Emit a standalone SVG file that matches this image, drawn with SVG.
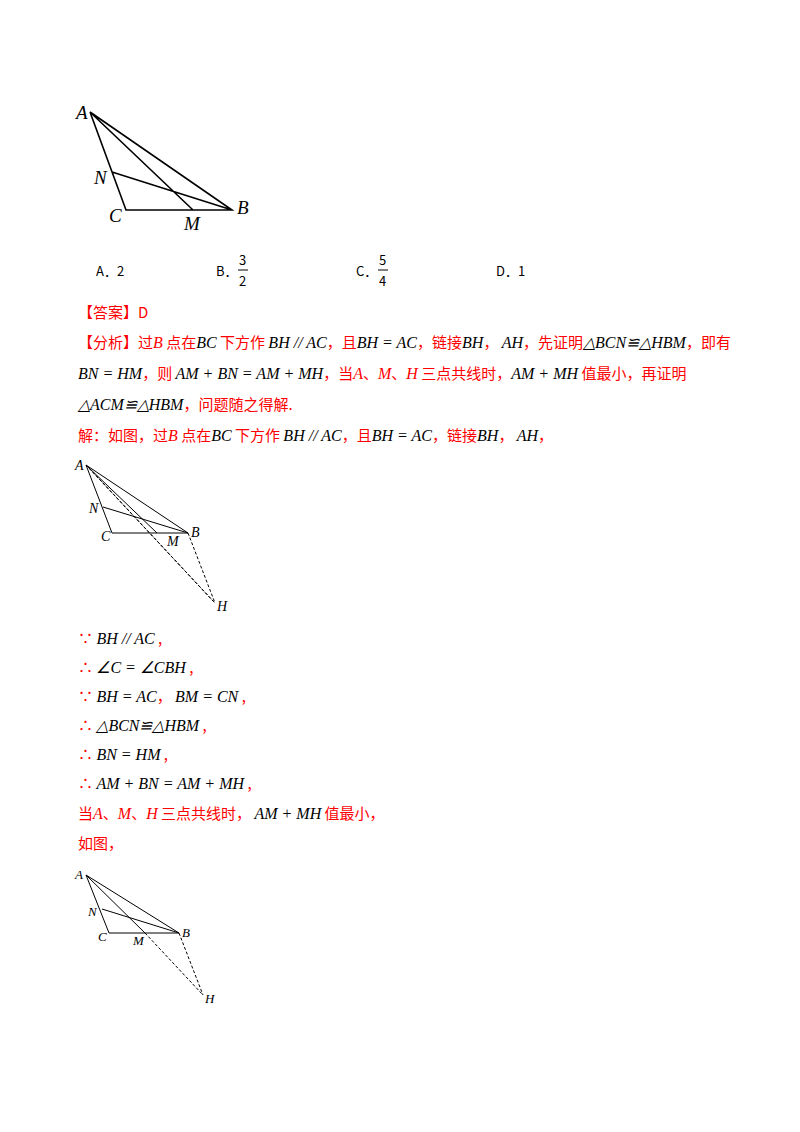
<svg xmlns="http://www.w3.org/2000/svg" width="800" height="1132" viewBox="0 0 800 1132">
<style>
.r{fill:#ff0000;font-family:"Noto Sans CJK SC","Liberation Sans",sans-serif;font-size:15px}
.m{fill:#000;font-family:"Liberation Serif",serif;font-style:italic;font-size:16px}
.mr{fill:#ff0000;font-family:"Liberation Serif",serif;font-style:italic;font-size:16px}
.o{fill:#000;font-family:"Noto Sans CJK SC","Liberation Sans",sans-serif;font-size:13px}
.l{fill:#000;font-family:"Liberation Serif",serif;font-style:italic}
.s{stroke:#000;stroke-width:1.6;fill:none}
.t{stroke:#000;stroke-width:1;fill:none}
.d{stroke:#000;stroke-width:1;fill:none;stroke-dasharray:3,2}
</style>
<rect width="800" height="1132" fill="#fff"/>
<g id="fig1">
<path class="s" d="M90 112L126 210L232 210L90 112M112 172L232 210M90 112L193 210"/>
<text class="l" font-size="19" x="76" y="119">A</text>
<text class="l" font-size="19" x="94" y="184">N</text>
<text class="l" font-size="19" x="109" y="222">C</text>
<text class="l" font-size="19" x="184" y="230">M</text>
<text class="l" font-size="19" x="237" y="214">B</text>
</g>
<g id="options">
<text class="o" x="96" y="276">A．2</text>
<text class="o" x="216" y="276">B．</text>
<text class="o" x="239" y="265">3</text><line x1="238" y1="270" x2="248" y2="270" stroke="#000"/><text class="o" x="239" y="286">2</text>
<text class="o" x="356" y="276">C．</text>
<text class="o" x="379" y="265">5</text><line x1="378" y1="270" x2="388" y2="270" stroke="#000"/><text class="o" x="379" y="286">4</text>
<text class="o" x="496" y="276">D．1</text>
</g>
<g id="analysis">
<text class="r" x="78" y="318">【答案】D</text>
<text x="78" y="348"><tspan class="r">【分析】过</tspan><tspan class="mr">B</tspan><tspan class="r"> 点在</tspan><tspan class="m">BC</tspan><tspan class="r"> 下方作 </tspan><tspan class="m">BH // AC</tspan><tspan class="r">，且</tspan><tspan class="m">BH = AC</tspan><tspan class="r">，链接</tspan><tspan class="m">BH</tspan><tspan class="r">， </tspan><tspan class="m">AH</tspan><tspan class="r">，先证明</tspan><tspan class="m">△BCN≌△HBM</tspan><tspan class="r">，即有</tspan></text>
<text x="78" y="379"><tspan class="m">BN = HM</tspan><tspan class="r">，则 </tspan><tspan class="m">AM + BN = AM + MH</tspan><tspan class="r">，当</tspan><tspan class="mr">A</tspan><tspan class="r">、</tspan><tspan class="mr">M</tspan><tspan class="r">、</tspan><tspan class="mr">H</tspan><tspan class="r"> 三点共线时，</tspan><tspan class="m">AM + MH</tspan><tspan class="r"> 值最小，再证明</tspan></text>
<text x="78" y="410"><tspan class="m">△ACM≌△HBM</tspan><tspan class="r">，问题随之得解.</tspan></text>
<text x="78" y="441"><tspan class="r">解：如图，过</tspan><tspan class="mr">B</tspan><tspan class="r"> 点在</tspan><tspan class="m">BC</tspan><tspan class="r"> 下方作 </tspan><tspan class="m">BH // AC</tspan><tspan class="r">，且</tspan><tspan class="m">BH = AC</tspan><tspan class="r">，链接</tspan><tspan class="m">BH</tspan><tspan class="r">， </tspan><tspan class="m">AH</tspan><tspan class="r">，</tspan></text>
</g>
<g id="fig2">
<path class="t" d="M86 465L112 533L188 533L86 465M103 507L188 533M86 465L157 533"/>
<path class="d" d="M86 465L215 603M89 468L213 601M188 533L215 603"/>
<text class="l" font-size="14" x="75" y="470">A</text>
<text class="l" font-size="14" x="89" y="513">N</text>
<text class="l" font-size="14" x="101" y="541">C</text>
<text class="l" font-size="14" x="167" y="546">M</text>
<text class="l" font-size="14" x="191" y="537">B</text>
<text class="l" font-size="14" x="217" y="611">H</text>
</g>
<g id="proof">
<text x="78" y="644"><tspan class="r">∵ </tspan><tspan class="m">BH // AC</tspan><tspan class="r"> ,</tspan></text>
<text x="78" y="673"><tspan class="r">∴ </tspan><tspan class="m">∠C = ∠CBH</tspan><tspan class="r"> ,</tspan></text>
<text x="78" y="702"><tspan class="r">∵ </tspan><tspan class="m">BH = AC</tspan><tspan class="r">，  </tspan><tspan class="m">BM = CN</tspan><tspan class="r"> ,</tspan></text>
<text x="78" y="731"><tspan class="r">∴ </tspan><tspan class="m">△BCN≌△HBM</tspan><tspan class="r"> ,</tspan></text>
<text x="78" y="760"><tspan class="r">∴ </tspan><tspan class="m">BN = HM</tspan><tspan class="r"> ,</tspan></text>
<text x="78" y="789"><tspan class="r">∴ </tspan><tspan class="m">AM + BN = AM + MH</tspan><tspan class="r"> ,</tspan></text>
<text x="78" y="819"><tspan class="r">当</tspan><tspan class="mr">A</tspan><tspan class="r">、</tspan><tspan class="mr">M</tspan><tspan class="r">、</tspan><tspan class="mr">H</tspan><tspan class="r"> 三点共线时，  </tspan><tspan class="m">AM + MH</tspan><tspan class="r"> 值最小，</tspan></text>
<text class="r" x="78" y="849">如图，</text>
</g>
<g id="fig3">
<path class="t" d="M86 875L109 933L179 933L86 875M102 909L179 933M86 875L145 933"/>
<path class="d" d="M145 933L203 995M179 933L203 995"/>
<text class="l" font-size="13" x="75" y="879">A</text>
<text class="l" font-size="13" x="88" y="916">N</text>
<text class="l" font-size="13" x="98" y="941">C</text>
<text class="l" font-size="13" x="133" y="945">M</text>
<text class="l" font-size="13" x="182" y="937">B</text>
<text class="l" font-size="13" x="205" y="1003">H</text>
</g>
</svg>
